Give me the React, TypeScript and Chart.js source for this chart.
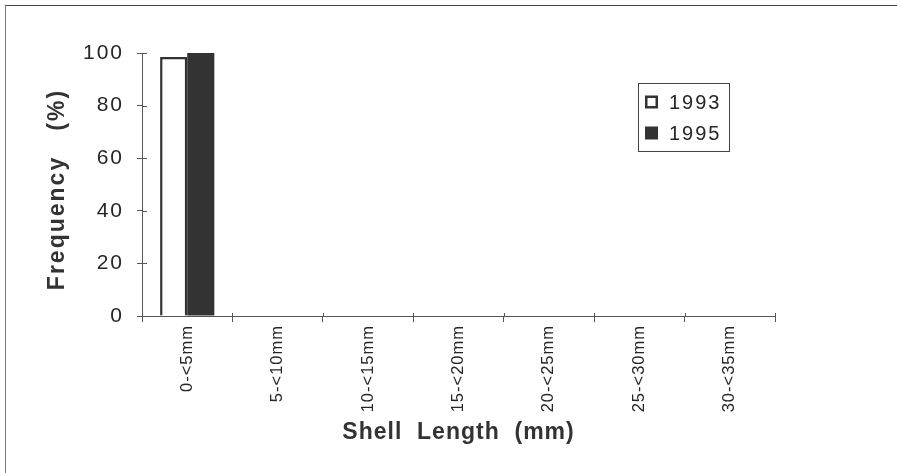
import React, { useEffect, useRef } from "react";
import { Chart, registerables } from "chart.js";

Chart.register(...registerables);

// Shell length classes and the percentage frequency in each survey year
const sizeClasses = ["0-<5mm", "5-<10mm", "10-<15mm", "15-<20mm", "20-<25mm", "25-<30mm", "30-<35mm"];
const freq1993 = [98.5, 0, 0, 0, 0, 0, 0];
const freq1995 = [100, 0, 0, 0, 0, 0, 0];
const seriesLabels = ["1993", "1995"];
const yTicks = [0, 20, 40, 60, 80, 100];

const INK = "#262626";
const BAR = "#333333";
const AXIS = "#555555";
const FONT = "'Liberation Sans', Arial, sans-serif";

// Wraps a scale drawing method so its text is drawn with the given tracking
function withTracking(scale: any, method: string, spacing: string, shiftY = 0) {
  const original = scale[method];
  scale[method] = function (...args: any[]) {
    const ctx = this.ctx;
    ctx.save();
    ctx.letterSpacing = spacing;
    if (shiftY) ctx.translate(0, shiftY);
    original.apply(this, args);
    ctx.restore();
  };
}

// Tracked lettering for the axis labels and titles
const trackedText = {
  id: "trackedText",
  beforeDraw(chart: any) {
    const { x, y } = chart.scales;
    if (x && !x.__tracked) {
      withTracking(x, "drawLabels", "1px");
      withTracking(x, "drawTitle", "1px");
      x.__tracked = true;
    }
    if (y && !y.__tracked) {
      withTracking(y, "drawLabels", "2px");
      withTracking(y, "drawTitle", "2px", 5);
      y.__tracked = true;
    }
  },
};

// Short tick marks on the inner side of both axes, so ticks cross the axis lines
const crossTicks = {
  id: "crossTicks",
  afterDatasetsDraw(chart: any) {
    const { ctx, scales } = chart;
    const y = scales.y;
    const x = scales.x;
    ctx.save();
    ctx.strokeStyle = AXIS;
    ctx.lineWidth = 1;
    ctx.beginPath();
    y.ticks.forEach((t: any) => {
      const py = Math.round(y.getPixelForValue(t.value)) + 0.5;
      ctx.moveTo(x.left, py);
      ctx.lineTo(x.left + 5, py);
    });
    for (let i = 1; i <= sizeClasses.length; i++) {
      const px = Math.round(x.getPixelForValue(i - 0.5)) + 0.5;
      ctx.moveTo(px, y.bottom);
      ctx.lineTo(px, y.bottom - 3);
    }
    ctx.stroke();
    ctx.restore();
  },
};

// Boxed legend drawn inside the plot, top right
const boxedLegend = {
  id: "boxedLegend",
  afterDraw(chart: any) {
    const { ctx } = chart;
    const x = 638, y = 83, w = 91, h = 68;
    ctx.save();
    ctx.letterSpacing = "2px";
    ctx.fillStyle = "#ffffff";
    ctx.fillRect(x, y, w, h);
    ctx.strokeStyle = "#444444";
    ctx.lineWidth = 1;
    ctx.strokeRect(x + 0.5, y + 0.5, w, h);
    ctx.font = `20px ${FONT}`;
    ctx.textBaseline = "middle";
    chart.data.datasets.forEach((ds: any, i: number) => {
      const cy = y + 19 + i * 31;
      const sx = 645, sz = 13;
      ctx.fillStyle = ds.backgroundColor;
      ctx.fillRect(sx, cy - sz / 2, sz, sz);
      if (ds.borderWidth) {
        ctx.strokeStyle = ds.borderColor;
        ctx.lineWidth = 2.5;
        ctx.strokeRect(sx + 1.25, cy - sz / 2 + 1.25, sz - 2.5, sz - 2.5);
      }
      ctx.fillStyle = INK;
      ctx.fillText(ds.label, 669, cy + 1);
    });
    ctx.restore();
  },
};

function FrequencyChart() {
  const canvasRef = useRef<HTMLCanvasElement | null>(null);

  useEffect(() => {
    const canvas = canvasRef.current;
    if (!canvas) return;
    const chart = new Chart(canvas, {
      type: "bar",
      data: {
        labels: sizeClasses,
        datasets: [
          {
            label: seriesLabels[0],
            data: freq1993,
            backgroundColor: "#ffffff",
            borderColor: BAR,
            borderWidth: 2.5,
            borderSkipped: "start",
            categoryPercentage: 0.6,
            barPercentage: 1.0,
          },
          {
            label: seriesLabels[1],
            data: freq1995,
            backgroundColor: BAR,
            borderWidth: 0,
            categoryPercentage: 0.6,
            barPercentage: 1.0,
          },
        ],
      },
      options: {
        responsive: false,
        animation: false,
        layout: { padding: { left: 0, right: 122, top: 53, bottom: 0 } },
        plugins: {
          legend: { display: false },
          tooltip: { enabled: false },
        },
        scales: {
          x: {
            grid: {
              drawOnChartArea: false,
              drawTicks: true,
              tickLength: 6,
              color: AXIS,
              offset: true,
            },
            border: { display: true, color: AXIS, width: 1 },
            ticks: {
              maxRotation: 90,
              minRotation: 90,
              autoSkip: false,
              padding: 3,
              color: INK,
              font: { family: FONT, size: 16.5 },
            },
            title: {
              display: true,
              text: "Shell  Length  (mm)",
              color: "#333333",
              padding: { top: 0, bottom: 27 },
              font: { family: FONT, size: 23, weight: "bold" },
            },
            afterFit(scale: any) {
              scale.height = 157;
            },
          },
          y: {
            min: 0,
            max: 100,
            afterBuildTicks(scale: any) {
              scale.ticks = yTicks.map((v) => ({ value: v }));
            },
            grid: {
              drawOnChartArea: false,
              drawTicks: true,
              tickLength: 5,
              color: AXIS,
            },
            border: { display: true, color: AXIS, width: 1 },
            ticks: {
              padding: 13,
              color: INK,
              font: { family: FONT, size: 21 },
            },
            title: {
              display: true,
              text: "Frequency   (%)",
              color: "#333333",
              padding: { top: 44, bottom: 0 },
              font: { family: FONT, size: 23, weight: "bold" },
            },
            afterFit(scale: any) {
              scale.width = 142;
            },
          },
        },
      },
      plugins: [trackedText, crossTicks, boxedLegend],
    });
    return () => chart.destroy();
  }, []);

  return (
    <div style={{ position: "fixed", left: 0, top: 0, width: 897, height: 473, background: "#ffffff" }}>
      <canvas ref={canvasRef} width={897} height={473} style={{ position: "absolute", left: 0, top: 0 }} />
      <div
        style={{
          position: "absolute",
          left: 5,
          top: 5,
          right: 0,
          bottom: 0,
          borderTop: "1.5px solid #444",
          borderLeft: "1.5px solid #777",
          pointerEvents: "none",
        }}
      />
    </div>
  );
}

export default function App() {
  return <FrequencyChart />;
}
